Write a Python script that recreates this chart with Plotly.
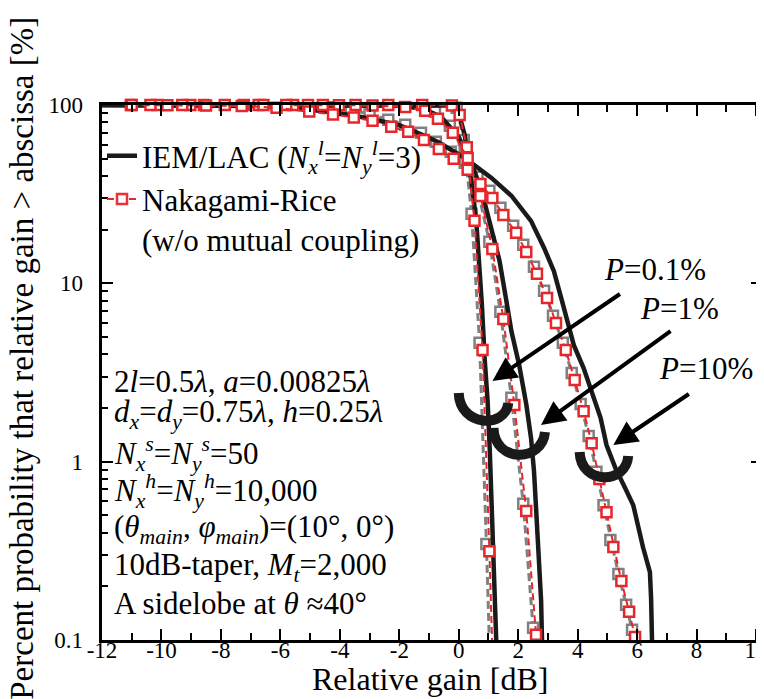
import plotly.graph_objects as go

# ---------------- data ----------------
# IEM/LAC curves (black, solid)
iem_a_x = [-12, -3, -1.0, -0.3, 0.0, 0.2, 0.3, 0.4, 0.5, 0.6, 0.7, 0.78, 0.87, 0.97, 1.04, 1.1, 1.17, 1.23, 1.26]
iem_a_y = [100, 100, 99.9, 99.3, 90, 68, 52, 40, 30, 21, 13, 7.5, 3.8, 2.2, 1.2, 0.62, 0.3, 0.15, 0.1]

iem_b_x = [-12, -3, -2.0, -1.2, -0.6, 0.0, 0.43, 0.77, 1.1, 1.37, 1.6, 1.77, 2.03, 2.27, 2.43, 2.53, 2.6, 2.7, 2.77, 2.8]
iem_b_y = [100, 100, 99.5, 95, 86, 66, 47, 33, 20.5, 13.4, 8.0, 5.4, 3.5, 2.1, 1.36, 0.89, 0.55, 0.29, 0.166, 0.1]

iem_c_x = [-12, -8, -6.5, -5, -4, -3, -2, -1.13, -0.7, 0.2, 1.1, 1.77, 2.43, 2.87, 3.2, 3.47, 3.87, 4.2, 4.47,
           4.77, 4.97, 5.27, 5.6, 5.87, 6.2, 6.43, 6.47, 6.5]
iem_c_y = [100, 99.8, 98.5, 94, 90, 84, 77, 67, 62, 50.5, 39, 31, 22.4, 15.8, 11.7, 8.0, 4.5, 3.35, 2.5,
           1.76, 1.24, 0.92, 0.71, 0.57, 0.33, 0.24, 0.17, 0.1]

# Nakagami-Rice curves (w/o mutual coupling)
nr_a_x = [-11.03, -10.13, -9.03, -7.87, -6.73, -5.57, -4.57, -3.47, -2.37, -1.23, -0.23, 0.03, 0.27, 0.53, 0.8, 1.03, 1.12]
nr_a_y = [100, 100, 100, 100, 100, 100, 100, 100, 100, 99.9, 99.5, 88, 58, 22.4, 4.23, 0.315, 0.1]

nr_b_x = [-10.37, -9.3, -8.57, -7.23, -6.57, -5.8, -5.07, -4.03, -2.9, -1.8, -1.13, -0.7, -0.2, 0.3, 0.73,
          1.13, 1.5, 1.87, 2.27, 2.6]
nr_b_y = [100, 100, 100, 100, 100, 100, 100, 99.8, 99.5, 97.5, 92.7, 83.6, 69.8, 50.5, 30.9,
          15.6, 6.31, 2.08, 0.529, 0.107]

nr_c_x = [-11.0, -9.8, -8.5, -7.3, -6.13, -5.03, -4.23, -3.53, -2.9, -2.27, -1.7, -1.17, -0.67, -0.17, 0.3,
          0.73, 1.13, 1.5, 1.93, 2.27, 2.63, 2.97, 3.27, 3.6, 3.9, 4.2, 4.47, 4.73, 4.97, 5.2, 5.47, 5.73, 5.93]
nr_c_y = [99.9, 99.8, 99.5, 98.8, 96.5, 92, 88.5, 85, 81.5, 75.4, 70.7, 63.7, 56.7, 49.9, 43.3,
          36.1, 30.1, 24.2, 19.2, 15.0, 11.3, 8.28, 6.0, 4.23, 2.87, 1.92, 1.27, 0.80, 0.52, 0.332, 0.214, 0.144, 0.104]

x_ticks = [-12, -10, -8, -6, -4, -2, 0, 2, 4, 6, 8, 10]
x_tick_labels = ["-12", "-10", "-8", "-6", "-4", "-2", "0", "2", "4", "6", "8", "10"]
y_ticks = [0.1, 1, 10, 100]
y_tick_labels = ["0.1", "1", "10", "100"]

legend_iem = "IEM/LAC (<i>N<sub>x</sub><sup>l</sup></i>=<i>N<sub>y</sub><sup>l</sup></i>=3)"
legend_nr = "Nakagami-Rice<br>(w/o mutual coupling)"

param_lines = [
    "2<i>l</i>=0.5<i>λ</i>, <i>a</i>=0.00825<i>λ</i>",
    "<i>d<sub>x</sub></i>=<i>d<sub>y</sub></i>=0.75<i>λ</i>, <i>h</i>=0.25<i>λ</i>",
    "<i>N<sub>x</sub><sup>s</sup></i>=<i>N<sub>y</sub><sup>s</sup></i>=50",
    "<i>N<sub>x</sub><sup>h</sup></i>=<i>N<sub>y</sub><sup>h</sup></i>=10,000",
    "(<i>θ<sub>main</sub></i>, <i>φ<sub>main</sub></i>)=(10°, 0°)",
    "10dB-taper, <i>M<sub>t</sub></i>=2,000",
    "A sidelobe at <i>θ</i> ≈40°",
]
p_labels = ["<i>P</i>=0.1%", "<i>P</i>=1%", "<i>P</i>=10%"]

# ---------------- layout constants ----------------
FONT = "Liberation Serif, Tinos, 'DejaVu Serif', 'Noto Serif', serif"
W, H = 764, 699
ML, MR, MT, MB = 94, 4, 97, 67
PW, PH = W - ML - MR, H - MT - MB
X_RANGE = [-12, 10.2]
Y_RANGE = [-1, 2]
SHADOW_DX, SHADOW_DY = 0.1, 0.04   # gray shadow offset (left / up)
Y_LABEL_PAD = "\u2002"              # small gap between y tick labels and the axis


def paper(px, py):
    return (px - ML) / PW, (H - MB - py) / PH


fig = go.Figure()

# gray "shadow" copies of the Nakagami-Rice curves (base axes, slightly shifted range; drawn underneath)
for xs, ys in [(nr_a_x, nr_a_y), (nr_b_x, nr_b_y), (nr_c_x, nr_c_y)]:
    fig.add_trace(go.Scatter(
        x=xs, y=ys, xaxis="x", yaxis="y", mode="lines+markers", showlegend=False,
        line=dict(color="#808080", width=3, dash="8px,4px"),
        marker=dict(symbol="square", size=10, color="white",
                    opacity=[1.0 if v > 0.1 else 0.0 for v in ys],
                    line=dict(color="#808080", width=2.5)),
        cliponaxis=False, hoverinfo="skip"))

# IEM/LAC curves (visible axes x2/y2)
for i, (xs, ys) in enumerate([(iem_a_x, iem_a_y), (iem_b_x, iem_b_y), (iem_c_x, iem_c_y)]):
    fig.add_trace(go.Scatter(
        x=xs, y=ys, xaxis="x2", yaxis="y2", mode="lines", name=legend_iem,
        showlegend=(i == 0), legendrank=1,
        line=dict(color="#1a1a1a", width=4.5)))

# Nakagami-Rice curves (red)
for i, (xs, ys) in enumerate([(nr_a_x, nr_a_y), (nr_b_x, nr_b_y), (nr_c_x, nr_c_y)]):
    fig.add_trace(go.Scatter(
        x=xs, y=ys, xaxis="x2", yaxis="y2", mode="lines+markers", name=legend_nr,
        showlegend=(i == 0), legendrank=2,
        line=dict(color="#e8262a", width=2, dash="7px,4px"),
        marker=dict(symbol="square", size=10, color="white",
                    opacity=[1.0 if v > 0.1 else 0.0 for v in ys],
                    line=dict(color="#e8262a", width=2.5)),
        cliponaxis=False))

axis_common = dict(showline=True, linewidth=3, linecolor="black", mirror="allticks",
                   ticks="inside", tickwidth=2, tickcolor="black", showgrid=False, zeroline=False,
                   tickfont=dict(family=FONT, size=23, color="black"))

fig.update_layout(
    width=W, height=H,
    margin=dict(l=ML, r=MR, t=MT, b=MB),
    paper_bgcolor="white", plot_bgcolor="white",
    font=dict(family=FONT, color="black"),
    xaxis=dict(range=[X_RANGE[0] + SHADOW_DX, X_RANGE[1] + SHADOW_DX], visible=False),
    yaxis=dict(type="log", range=[Y_RANGE[0] - SHADOW_DY, Y_RANGE[1] - SHADOW_DY], visible=False),
    xaxis2=dict(overlaying="x", anchor="y2", side="bottom", range=X_RANGE,
                tickmode="array", tickvals=x_ticks, ticktext=x_tick_labels, ticklen=11,
                ticklabelstandoff=-13,
                minor=dict(ticks="inside", tickmode="linear", tick0=-12, dtick=1, ticklen=7,
                           tickwidth=1.5, tickcolor="black"),
                **axis_common),
    yaxis2=dict(overlaying="y", anchor="x2", side="left", type="log", range=Y_RANGE,
                tickmode="array", tickvals=y_ticks,
                ticktext=[t + Y_LABEL_PAD for t in y_tick_labels], ticklen=11,
                minor=dict(ticks="inside", tickmode="array",
                           tickvals=[m * 10 ** e for e in (-1, 0, 1) for m in range(2, 10)],
                           ticklen=6, tickwidth=1.5, tickcolor="black"),
                **axis_common),
    legend=dict(x=0.0, y=0.955, xanchor="left", yanchor="top", bgcolor="rgba(0,0,0,0)",
                font=dict(family=FONT, size=31, color="black"), itemwidth=30, tracegroupgap=0,
                valign="top"),
    showlegend=True,
)

ann = []
# axis titles
px_, py_ = paper(13, 350)
ann.append(dict(text="Percent probability that relative gain > abscissa [%]", x=px_, y=py_,
                xref="paper", yref="paper", textangle=-90, showarrow=False,
                font=dict(family=FONT, size=33, color="black"), xanchor="center", yanchor="middle"))
px_, py_ = paper(425, 671)
ann.append(dict(text="Relative gain [dB]", x=px_, y=py_, xref="paper", yref="paper", showarrow=False,
                font=dict(family=FONT, size=32, color="black"), xanchor="center", yanchor="middle"))

# parameter block
line_y = [373, 406, 446, 483, 521, 559, 595]
for txt, ly in zip(param_lines, line_y):
    px_, py_ = paper(104, ly)
    ann.append(dict(text=txt, x=px_, y=py_, xref="paper", yref="paper", showarrow=False,
                    xanchor="left", yanchor="middle", font=dict(family=FONT, size=31, color="black")))

# P labels and arrows
label_pos = [(652, 261), (677, 300), (703, 360)]
arrow_heads = [(488, 373), (537, 417), (610, 437)]
arrow_tails = [(617, 285), (668, 322), (687, 385)]
for txt, (lx, ly), (hx, hy), (tx, ty) in zip(p_labels, label_pos, arrow_heads, arrow_tails):
    px_, py_ = paper(lx, ly)
    ann.append(dict(text=txt, x=px_, y=py_, xref="paper", yref="paper", showarrow=False,
                    xanchor="center", yanchor="middle", font=dict(family=FONT, size=31, color="black")))
    hx_, hy_ = paper(hx, hy)
    ann.append(dict(text="", x=hx_, y=hy_, xref="paper", yref="paper", showarrow=True,
                    ax=tx - hx, ay=ty - hy, axref="pixel", ayref="pixel",
                    arrowhead=2, arrowsize=1.2, arrowwidth=4, arrowcolor="black", standoff=0))
fig.update_layout(annotations=ann)

# curved marks around the curve bundles
arcs = [
    [(454, 385), (455, 419), (501, 421), (504, 395)],
    [(489, 420), (490, 455), (538, 455), (541, 424)],
    [(576, 444), (577, 477), (623, 477), (625, 448)],
]
shapes = []
for pts in arcs:
    p = [paper(*q) for q in pts]
    path = "M {:.4f},{:.4f} C {:.4f},{:.4f} {:.4f},{:.4f} {:.4f},{:.4f}".format(
        p[0][0], p[0][1], p[1][0], p[1][1], p[2][0], p[2][1], p[3][0], p[3][1])
    shapes.append(dict(type="path", path=path, xref="paper", yref="paper",
                       line=dict(color="#1a1a1a", width=10)))
fig.update_layout(shapes=shapes)

fig.write_html("out.html")
